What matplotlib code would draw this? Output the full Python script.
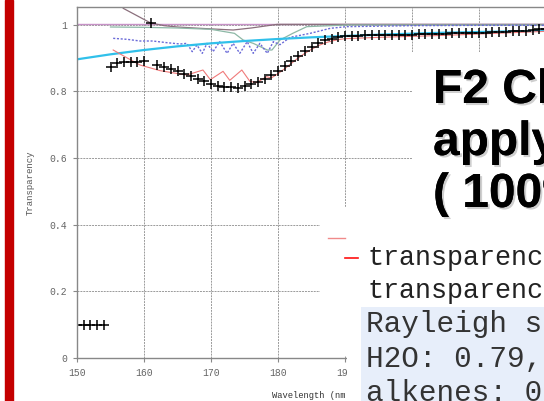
import matplotlib
matplotlib.use("Agg")
import matplotlib.pyplot as plt
import matplotlib.patheffects as pe
from matplotlib.patches import Rectangle
from matplotlib.lines import Line2D

W, H = 544, 401

# measured transparency (black crosses)
wl_meas = list(range(150, 221))
t_meas = [0.10, 0.10, 0.10, 0.10, 0.10,
          0.874, 0.885, 0.887, 0.888, 0.888, 0.890, 1.005, 0.878, 0.874, 0.868,
          0.861, 0.853, 0.846, 0.838, 0.831, 0.822, 0.816, 0.813, 0.812, 0.811,
          0.816, 0.822, 0.828, 0.838, 0.849, 0.862, 0.877, 0.892, 0.907, 0.921,
          0.933, 0.945, 0.953, 0.958, 0.962, 0.965, 0.966, 0.967, 0.968, 0.968,
          0.969, 0.969, 0.969, 0.970, 0.970, 0.970, 0.971, 0.971, 0.972, 0.973,
          0.973, 0.974, 0.974, 0.974, 0.975, 0.975, 0.976, 0.977, 0.978, 0.979,
          0.980, 0.981, 0.982, 0.984, 0.986, 0.987]

# model transparency (red thin line)
wl_red = [155.4, 157.5, 159.4, 162.4, 164.5, 166.4, 168.8, 169.9, 171.8, 172.8,
          174.6, 175.8, 176.8, 178.3, 179.0, 180.0, 181.0, 182.0, 183.0, 184.0,
          185.0, 186.0, 187.0, 188.0, 189.0, 190.0, 195.0, 200.0, 205.0, 210.0,
          215.0, 220.0]
t_red = [0.924, 0.900, 0.879, 0.862, 0.855, 0.849, 0.864, 0.835, 0.860, 0.833,
         0.864, 0.830, 0.826, 0.844, 0.840, 0.853, 0.868, 0.884, 0.900, 0.914,
         0.926, 0.937, 0.945, 0.951, 0.955, 0.958, 0.962, 0.965, 0.968, 0.972,
         0.976, 0.980]

# Rayleigh scattering (cyan)
wl_ray = [150, 155, 160, 165, 170, 175, 180, 185, 190, 195, 200, 205, 210, 215, 220]
t_ray = [0.896, 0.911, 0.924, 0.935, 0.944, 0.951, 0.957, 0.962, 0.966, 0.970,
         0.973, 0.976, 0.978, 0.980, 0.982]

# H2O (blue dotted)
wl_h2o = [155.4, 157.5, 159.4, 161.3, 163.4, 165.4, 166.4, 167.2, 167.9, 168.7,
          169.4, 170.3, 171.3, 172.4, 173.3, 174.3, 175.4, 176.3, 177.3, 178.4,
          179.3, 180.3, 181.8, 184.8, 187.8, 190.2, 200.0, 210.0, 220.0]
t_h2o = [0.959, 0.956, 0.951, 0.951, 0.946, 0.942, 0.944, 0.919, 0.939, 0.914,
         0.944, 0.919, 0.949, 0.914, 0.944, 0.914, 0.949, 0.914, 0.944, 0.914,
         0.949, 0.940, 0.962, 0.974, 0.989, 0.994, 0.997, 0.998, 0.998]

# alkenes (grey-green)
wl_alk = [155, 160, 165, 170, 173.5, 174.8, 176.3, 178.4, 179.1, 180.3, 182.2,
          184.3, 190.3, 220]
t_alk = [0.993, 0.992, 0.990, 0.986, 0.974, 0.954, 0.944, 0.924, 0.924, 0.954,
         0.974, 0.994, 0.999, 0.999]

# O2 (brown-grey)
wl_o2 = [156.9, 161.0, 163.0, 165.0, 168.4, 173.3, 176.0, 179.9, 220.0]
t_o2 = [1.049, 1.005, 0.997, 0.993, 0.989, 0.984, 0.990, 1.001, 1.001]

# other gases (mauve, flat)
wl_oth = [150, 220]
t_oth = [1.002, 1.002]

xticks = [150, 160, 170, 180, 190, 200, 210, 220]
xtick_labels = ["150", "160", "170", "180", "190", "", "", ""]
yticks = [0, 0.2, 0.4, 0.6, 0.8, 1.0]
ytick_labels = ["0", "0.2", "0.4", "0.6", "0.8", "1"]

title_lines = ["F2 Cleaning", "applying", "( 100%)"]
legend_top = ["transparency", "transparency"]
legend_bottom = ["Rayleigh scattering", "H2O: 0.79, O2", "alkenes: 0.5"]


def fx(px):
    return px / W


def fy(py):
    return 1 - py / H


fig = plt.figure(figsize=(W / 100, H / 100), dpi=100)
ax = fig.add_axes([fx(77), fy(358), (546 - 77) / W, (358 - 7) / H])

ax.plot(wl_oth, t_oth, color="#c792c7", lw=1.0)
ax.plot(wl_o2, t_o2, color="#8a6f7c", lw=0.9)
ax.plot(wl_alk, t_alk, color="#8db8a6", lw=0.9)
ax.plot(wl_h2o, t_h2o, color="#6a6ad8", lw=1.0, ls=(0, (1.5, 1.2)))
ax.plot(wl_ray, t_ray, color="#30c0ea", lw=1.6)
ax.plot(wl_red, t_red, color="#f07a7a", lw=0.8)
ax.plot(wl_meas, t_meas, ls="none", marker="+", ms=7, mew=1.1, color="black")

ax.set_xlim(150, 220)
ax.set_ylim(0, 1.053)
ax.set_xticks(xticks)
ax.set_xticklabels(xtick_labels)
ax.set_yticks(yticks)
ax.set_yticklabels(ytick_labels)
ax.grid(True, color="#9a9a9a", lw=0.7, ls=(0, (2, 1)))
ax.set_axisbelow(True)
for s in ax.spines.values():
    s.set_color("#888888")
    s.set_linewidth(1.0)
ax.tick_params(length=3, width=0.8, color="#888888", labelcolor="#666666",
               labelsize=7, pad=4)
for lab in ax.get_xticklabels() + ax.get_yticklabels():
    lab.set_family("Liberation Mono")
ax.set_ylabel("Transparency", family="Liberation Mono", fontsize=6.5, color="#555555")
ax.set_xlabel("Wavelength (nm)", family="Liberation Mono", fontsize=6.3, color="#333333")
ax.yaxis.set_label_coords(-0.09, 0.5)
ax.xaxis.set_label_coords(0.5, -0.095)

# red slide bar
fig.add_artist(Rectangle((fx(5), 0), 7.5 / W, 1, transform=fig.transFigure,
                         color="#c40000", zorder=5))


# chart legend box and slide boxes covering the chart
def box(x0, y0, x1, y1, color="white"):
    fig.add_artist(Rectangle((fx(x0), fy(y1)), (x1 - x0) / W, (y1 - y0) / H,
                             transform=fig.transFigure, facecolor=color,
                             edgecolor="none", zorder=5))


box(320, 207, 546, 356)
box(347, 207, 546, 402)
box(412, 52, 546, 207)
box(361, 307, 546, 402, color="#e7eefa")

fig.add_artist(Line2D([fx(328), fx(345)], [fy(237.5), fy(237.5)],
                      transform=fig.transFigure, color="#f08a8a", lw=1.0, zorder=6))
fig.add_artist(Line2D([fx(345), fx(358)], [fy(258), fy(258)],
                      transform=fig.transFigure, color="#ff1010", lw=1.2, zorder=6))

shadow = [pe.withSimplePatchShadow(offset=(1.5, -1.5), shadow_rgbFace="#888888", alpha=0.4),
          pe.Normal()]
for i, line in enumerate(title_lines):
    fig.text(fx(433), fy(103 + 52 * i), line, family="Liberation Sans",
             weight="bold", fontsize=34.5, color="black", va="baseline",
             ha="left", zorder=7, path_effects=shadow)

for i, line in enumerate(legend_top):
    fig.text(fx(367), fy(265 + 33.5 * i), line, family="Liberation Mono",
             fontsize=19.3, color="#222222", va="baseline", ha="left", zorder=7)
for i, line in enumerate(legend_bottom):
    fig.text(fx(366), fy(332 + 34.5 * i), line, family="Liberation Mono",
             fontsize=21.2, color="#333333", va="baseline", ha="left", zorder=7)

fig.savefig("out.png", dpi=100, facecolor="white")
